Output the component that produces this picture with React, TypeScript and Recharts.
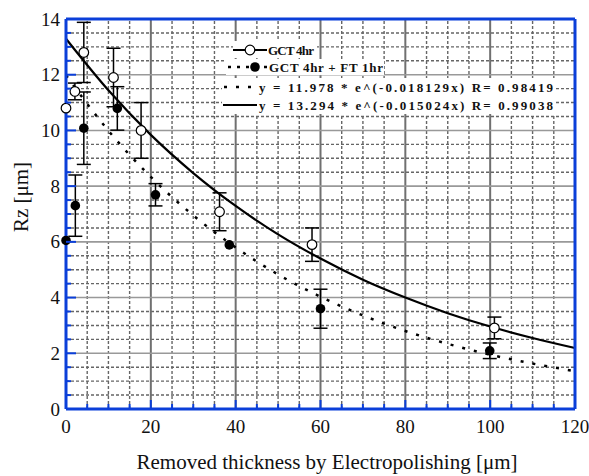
import React from "react";
import {
  ComposedChart, Line, Scatter, ErrorBar, XAxis, YAxis, ReferenceLine,
} from "recharts";

const BLUE = "#0b3fd9";
const FONT = "Liberation Serif, Times New Roman, serif";

// axis ticks
const X_TICKS = [0, 5, 10, 15, 20, 25, 30, 35, 40, 45, 50, 55, 60, 65, 70, 75, 80, 85, 90, 95, 100, 105, 110, 115, 120];
const Y_TICKS = [0, 0.5, 1, 1.5, 2, 2.5, 3, 3.5, 4, 4.5, 5, 5.5, 6, 6.5, 7, 7.5, 8, 8.5, 9, 9.5, 10, 10.5, 11, 11.5, 12, 12.5, 13, 13.5, 14];
const X_MAJOR = [20, 40, 60, 80, 100];
const Y_MAJOR = [2, 4, 6, 8, 10, 12];

// GCT 4hr (open circles)
const GCT_X = [0, 2.1, 4.2, 11.2, 17.7, 36.2, 58.0, 101];
const GCT_Y = [10.8, 11.4, 12.8, 11.9, 10.0, 7.08, 5.9, 2.91];
const GCT_ERR = [0, 0.3, 1.08, 1.05, 1.0, 0.68, 0.6, 0.39];

// GCT 4hr + FT 1hr (filled circles)
const FT_X = [0, 2.2, 4.2, 12.1, 21.1, 38.5, 60.0, 99.9];
const FT_Y = [6.05, 7.3, 10.08, 10.79, 7.69, 5.89, 3.6, 2.09];
const FT_ERR = [0, 1.1, 1.3, 0.78, 0.4, 0, 0.7, 0.28];

// fitted curves
const FIT_X = [0, 10, 20, 30, 40, 50, 60, 70, 80, 90, 100, 110, 120];
const FIT_FT_Y = [11.98, 9.99, 8.33, 6.95, 5.8, 4.83, 4.03, 3.36, 2.8, 2.34, 1.95, 1.63, 1.36];
const FIT_GCT_Y = [13.29, 11.44, 9.84, 8.47, 7.29, 6.27, 5.4, 4.64, 4.0, 3.44, 2.96, 2.55, 2.19];

const gctData = GCT_X.map((x, i) => ({ x, y: GCT_Y[i], err: GCT_ERR[i] }));
const ftData = FT_X.map((x, i) => ({ x, y: FT_Y[i], err: FT_ERR[i] }));
const fitFt = FIT_X.map((x, i) => ({ x, y: FIT_FT_Y[i] }));
const fitGct = FIT_X.map((x, i) => ({ x, y: FIT_GCT_Y[i] }));

const xMinor = X_TICKS.filter((v) => v > 0 && v < 120 && v % 20 !== 0);
const yMinor = Y_TICKS.filter((v) => v > 0 && v < 14 && v % 2 !== 0);

const textStyle = { fontFamily: FONT, fill: "#111" };

const BottomTick = (p: any) => {
  const major = p.payload.value % 20 === 0;
  return (
    <g>
      <line x1={p.x} y1={p.y} x2={p.x} y2={p.y - (major ? 9 : 5)} stroke={BLUE} strokeWidth={2} />
      {major && (
        <text x={p.x} y={p.y + 24} textAnchor="middle" style={{ ...textStyle, fontSize: 19 }}>
          {p.payload.value}
        </text>
      )}
    </g>
  );
};

const TopTick = (p: any) => {
  const major = p.payload.value % 20 === 0;
  return <line x1={p.x} y1={p.y} x2={p.x} y2={p.y + (major ? 9 : 5)} stroke={BLUE} strokeWidth={2} />;
};

const LeftTick = (p: any) => {
  const major = p.payload.value % 2 === 0;
  return (
    <g>
      <line x1={p.x} y1={p.y} x2={p.x + (major ? 10 : 5)} y2={p.y} stroke={BLUE} strokeWidth={2} />
      {major && (
        <text x={p.x - 6} y={p.y + 6.5} textAnchor="end" style={{ ...textStyle, fontSize: 19 }}>
          {p.payload.value}
        </text>
      )}
    </g>
  );
};

const RightTick = (p: any) => {
  const major = p.payload.value % 2 === 0;
  return <line x1={p.x} y1={p.y} x2={p.x - (major ? 10 : 5)} y2={p.y} stroke={BLUE} strokeWidth={2} />;
};

const XTitle = (p: any) => {
  const vb = p.viewBox;
  return (
    <text x={vb.x + vb.width / 2 + 6.5} y={vb.y + 60} textAnchor="middle" style={{ ...textStyle, fontSize: 21 }}>
      Removed thickness by Electropolishing [μm]
    </text>
  );
};

const YTitle = (p: any) => {
  const vb = p.viewBox;
  const cx = vb.x + 28;
  const cy = vb.y + 178;
  return (
    <text x={cx} y={cy} transform={`rotate(-90 ${cx} ${cy})`} textAnchor="middle" style={{ ...textStyle, fontSize: 21 }}>
      Rz [μm]
    </text>
  );
};

const OpenDot = (p: any) => <circle cx={p.cx} cy={p.cy} r={4.8} fill="#fff" stroke="#000" strokeWidth={1.2} />;
const FilledDot = (p: any) => <circle cx={p.cx} cy={p.cy} r={4.8} fill="#000" />;

function LegendBox() {
  const txt = { ...textStyle, fontSize: 13, fontWeight: 700 };
  return (
    <svg width={589} height={476} style={{ position: "absolute", left: 0, top: 0, pointerEvents: "none" }}>
      <rect x={233} y={41} width={84} height={17} fill="#fff" />
      <line x1={233} y1={50} x2={267} y2={50} stroke="#000" strokeWidth={2} />
      <circle cx={250} cy={50} r={4.8} fill="#fff" stroke="#000" strokeWidth={1.2} />
      <text x={268} y={54.5} textLength={46} style={txt}>GCT 4hr</text>

      <rect x={226} y={59} width={158} height={16} fill="#fff" />
      <line x1={228} y1={67} x2={268} y2={67} stroke="#000" strokeWidth={2.5} strokeDasharray="3 6" />
      <circle cx={255} cy={67} r={4.8} fill="#000" />
      <text x={269} y={71.5} textLength={114} style={txt}>GCT 4hr + FT 1hr</text>

      <rect x={222} y={78} width={333} height={36} fill="#fff" />
      <line x1={224} y1={87} x2={257} y2={87} stroke="#000" strokeWidth={2.5} strokeDasharray="3 9" />
      <text x={259} y={92} textLength={294} style={txt}>y = 11.978 * e^(-0.018129x) R= 0.98419</text>
      <line x1={223} y1={105} x2={257} y2={105} stroke="#000" strokeWidth={2} />
      <text x={259} y={110} textLength={294} style={txt}>y = 13.294 * e^(-0.015024x) R= 0.99038</text>
    </svg>
  );
}

export default function App() {
  return (
    <div style={{ position: "relative", width: 589, height: 476 }}>
      <style>{"body{margin:0}"}</style>
      <ComposedChart width={589} height={476} margin={{ top: 0, right: 0, bottom: 0, left: 0 }}>
        <XAxis
          xAxisId={0} type="number" dataKey="x" domain={[0, 120]} ticks={X_TICKS} interval={0}
          tick={BottomTick} tickSize={0} tickMargin={0} tickLine={false} height={67}
          axisLine={{ stroke: BLUE, strokeWidth: 3 }} label={{ content: XTitle }}
        />
        <XAxis
          xAxisId="top" orientation="top" type="number" dataKey="x" domain={[0, 120]} ticks={X_TICKS} interval={0}
          tick={TopTick} tickSize={0} tickMargin={0} tickLine={false} height={19}
          axisLine={{ stroke: BLUE, strokeWidth: 3 }}
        />
        <YAxis
          yAxisId={0} type="number" dataKey="y" domain={[0, 14]} ticks={Y_TICKS} interval={0}
          tick={LeftTick} tickSize={0} tickMargin={0} tickLine={false} width={66}
          axisLine={{ stroke: BLUE, strokeWidth: 3 }} label={{ content: YTitle }}
        />
        <YAxis
          yAxisId="right" orientation="right" type="number" domain={[0, 14]} ticks={Y_TICKS} interval={0}
          tick={RightTick} tickSize={0} tickMargin={0} tickLine={false} width={14}
          axisLine={{ stroke: BLUE, strokeWidth: 3 }}
        />

        {xMinor.map((v) => (
          <ReferenceLine key={"xm" + v} x={v} stroke="#666" strokeWidth={1.4} strokeDasharray="3 2" />
        ))}
        {yMinor.map((v) => (
          <ReferenceLine key={"ym" + v} y={v} stroke="#666" strokeWidth={1.4} strokeDasharray="3 2" />
        ))}
        {X_MAJOR.map((v) => (
          <ReferenceLine key={"xM" + v} x={v} stroke="#707070" strokeWidth={2} />
        ))}
        {Y_MAJOR.map((v) => (
          <ReferenceLine key={"yM" + v} y={v} stroke="#999" strokeWidth={1.6} />
        ))}

        <Line data={fitFt} dataKey="y" type="monotone" stroke="#000" strokeWidth={2.5}
          strokeDasharray="3 9" dot={false} isAnimationActive={false} />
        <Line data={fitGct} dataKey="y" type="monotone" stroke="#000" strokeWidth={2.2}
          dot={false} isAnimationActive={false} />

        <Scatter data={ftData} dataKey="y" shape={FilledDot} isAnimationActive={false}>
          <ErrorBar dataKey="err" direction="y" width={7} stroke="#000" strokeWidth={1.5} />
        </Scatter>
        <Scatter data={gctData} dataKey="y" shape={OpenDot} isAnimationActive={false}>
          <ErrorBar dataKey="err" direction="y" width={7} stroke="#000" strokeWidth={1.5} />
        </Scatter>
      </ComposedChart>
      <LegendBox />
    </div>
  );
}
